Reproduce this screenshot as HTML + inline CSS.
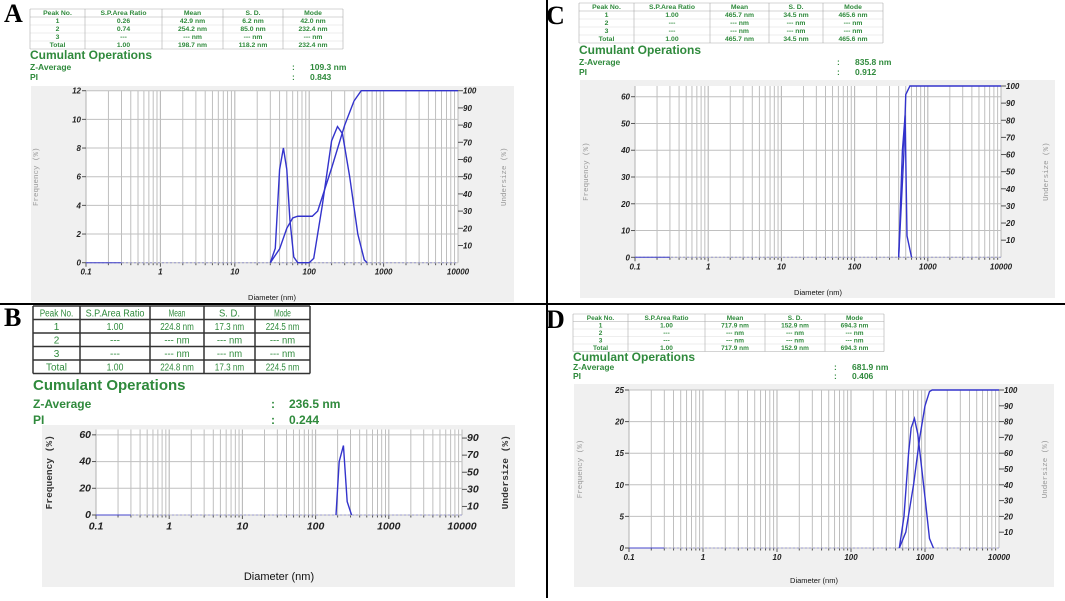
<!DOCTYPE html>
<html><head><meta charset="utf-8"><style>
body{margin:0;background:#fff;}
svg{display:block;font-family:"Liberation Sans",sans-serif;}
</style></head><body>
<svg id="fig" width="1065" height="601" viewBox="0 0 1065 601"></svg>
<script>
// ---- Data (diameter nm / value) ----
const aFreqX=[30,35,40,45,50,55,62,70, 100,115,150,200,240,280,350,450,550,600];
const aFreqY=[0,1,6.5,8,6.5,3,0.4,0, 0,0.3,4,8.5,9.5,9,6,2,0.2,0];
const aCumX=[30,40,50,60,70,110,130,200,300,400,500,10000];
const aCumY=[0,8,20,26,27,27,30,55,80,94,100,100];
const cFreqX=[400,450,490,520,600];
const cFreqY=[0,40,53,8,0];
const cCumX=[400,470,500,570,10000];
const cCumY=[0,60,95,100,100];
const bFreqX=[190,210,240,270,310];
const bFreqY=[0,40,52,10,0];
const dFreqX=[450,520,600,650,720,800,1000,1150,1300];
const dFreqY=[0,5,15,19,20.5,18,8,1.5,0];
const dCumX=[450,550,700,850,1000,1150,1250,10000];
const dCumY=[0,10,40,70,90,99,100,100];
const xTickLabels=["0.1","1","10","100","1000","10000"];
const aYTicks=[0,2,4,6,8,10,12];
const cYTicks=[0,10,20,30,40,50,60];
const bYTicks=[0,20,40,60];
const dYTicks=[0,5,10,15,20,25];
const rTicks=[10,20,30,40,50,60,70,80,90,100];
const bRTicks=[10,30,50,70,90];

const NS="http://www.w3.org/2000/svg";
const svg=document.getElementById('fig');
function el(tag,attrs,parent,txt){const e=document.createElementNS(NS,tag);for(const k in attrs)e.setAttribute(k,attrs[k]);if(txt!==undefined)e.textContent=txt;(parent||svg).appendChild(e);return e;}
const GREEN="#2f8a3c";

function table(g,cols,y0,rowH,rows,fs,heavy){
  const t=el('g',{},g);
  
  
  const sw=heavy?1.5:0.6, sc=heavy?"#333":"#aaa";
  for(let r=0;r<=rows.length;r++){if(heavy||r==0||r==1||r==rows.length) el('line',{x1:cols[0],x2:cols[cols.length-1],y1:y0+r*rowH,y2:y0+r*rowH,stroke:sc,'stroke-width':sw},t); else el('line',{x1:cols[0],x2:cols[cols.length-1],y1:y0+r*rowH,y2:y0+r*rowH,stroke:"#ddd",'stroke-width':0.5},t);}
  cols.forEach(c=>el('line',{x1:c,x2:c,y1:y0,y2:y0+rows.length*rowH,stroke:sc,'stroke-width':sw},t));
  rows.forEach((row,r)=>row.forEach((txt,i)=>{
    const a={x:(cols[i]+cols[i+1])/2,y:y0+r*rowH+rowH*0.78,'font-size':fs,'font-weight':heavy?'normal':'bold',fill:GREEN,'text-anchor':'middle'};
    if(heavy&&txt.length>3){a.textLength=Math.min((cols[i+1]-cols[i])-6,txt.length*fs*0.42);a.lengthAdjust='spacingAndGlyphs';}
    el('text',a,t,txt);
  }));
}

function panel(cfg){
  const g=el('g',{});
  
  
  el('text',{x:cfg.lx,y:cfg.ly,'font-size':26,'font-weight':'bold','font-family':'"Liberation Serif",serif',fill:'#000'},g,cfg.id.toUpperCase());
  table(g,cfg.cols,cfg.ty,cfg.rowH,cfg.rows,cfg.tfs,cfg.heavy);
  el('text',{x:cfg.cols[0],y:cfg.cy,'font-size':cfg.cfs,'font-weight':'bold',fill:GREEN},g,'Cumulant Operations');
  el('text',{x:cfg.cols[0],y:cfg.zy,'font-size':cfg.zfs,'font-weight':'bold',fill:GREEN},g,'Z-Average');
  el('text',{x:cfg.cols[0],y:cfg.py,'font-size':cfg.zfs,'font-weight':'bold',fill:GREEN},g,'PI');
  el('text',{x:cfg.vx-18,y:cfg.zy,'font-size':cfg.zfs,'font-weight':'bold',fill:GREEN},g,':');
  el('text',{x:cfg.vx,y:cfg.zy,'font-size':cfg.zfs,'font-weight':'bold',fill:GREEN},g,cfg.z);
  el('text',{x:cfg.vx-18,y:cfg.py,'font-size':cfg.zfs,'font-weight':'bold',fill:GREEN},g,':');
  el('text',{x:cfg.vx,y:cfg.py,'font-size':cfg.zfs,'font-weight':'bold',fill:GREEN},g,cfg.pi);
  const bg=el('rect',{x:cfg.bx,y:cfg.by,width:cfg.bw,height:cfg.bh,fill:'#f0f0f0'},g);
  
  
  const X0=cfg.x0,X1=cfg.x1,Yb=cfg.yb,Yt=cfg.yt;
  el('rect',{x:X0,y:Yt,width:X1-X0,height:Yb-Yt,fill:'#fff'},g);
  const xs=d=>X0+(Math.log10(d)+1)/5*(X1-X0);
  const ys=v=>Yb-v/cfg.ymax*(Yb-Yt);
  const yr=v=>Yb-v/100*(Yb-Yt);
  const grid=el('g',{},g);
  
  
  for(let e=-1;e<4;e++)for(let m=1;m<10;m++){const x=xs(m*Math.pow(10,e));el('line',{x1:x,x2:x,y1:Yt,y2:Yb,stroke:'#b8b8b8','stroke-width':m==1?1.1:0.9},grid);
    el('line',{x1:x,x2:x,y1:Yb,y2:Yb+(m==1?4:2.5),stroke:'#555','stroke-width':1},grid);}
  el('line',{x1:X1,x2:X1,y1:Yt,y2:Yb,stroke:'#b8b8b8'},grid);
  cfg.yTicks.forEach(v=>{const y=ys(v);el('line',{x1:X0,x2:X1,y1:y,y2:y,stroke:'#c0c0c0'},grid);
    el('line',{x1:X0-4,x2:X0,y1:y,y2:y,stroke:'#555'},grid);
    const t=el('text',{x:X0-5,y:y+3,'font-size':cfg.afs,'font-style':'italic','font-weight':'bold','text-anchor':'end',fill:'#222'},g,String(v));
    });
  cfg.rTicks.forEach(v=>{const y=yr(v);el('line',{x1:X1,x2:X1+5,y1:y,y2:y,stroke:'#555'},grid);
    const t=el('text',{x:X1+5,y:y+3,'font-size':cfg.afs,'font-style':'italic','font-weight':'bold',fill:'#222'},g,String(v));
    });
  xTickLabels.forEach(s=>{const t=el('text',{x:xs(+s),y:Yb+cfg.afs+4,'font-size':cfg.afs,'font-style':'italic','font-weight':'bold','text-anchor':'middle',fill:'#222'},g,s);
    });
  el('line',{x1:X0,x2:X1,y1:Yb,y2:Yb,stroke:'#9999cc','stroke-dasharray':'2,2'},g);
  el('line',{x1:X0,x2:xs(0.3),y1:Yb,y2:Yb,stroke:'#4444cc'},g);
  const xl=el('text',{x:(X0+X1)/2,y:cfg.dy,'font-size':cfg.dfs,'text-anchor':'middle',fill:'#111'},g,'Diameter (nm)');
  
  const mid=(Yt+Yb)/2;
  const fl=el('text',{x:cfg.fx,y:mid,'font-size':cfg.ffs,'font-family':'"Liberation Mono",monospace','font-weight':cfg.heavy?'bold':'normal',fill:cfg.heavy?'#333':'#999','text-anchor':'middle',transform:`rotate(-90 ${cfg.fx} ${mid})`},g,'Frequency (%)');
  
  const ul=el('text',{x:cfg.ux,y:mid,'font-size':cfg.ffs,'font-family':'"Liberation Mono",monospace','font-weight':cfg.heavy?'bold':'normal',fill:cfg.heavy?'#333':'#999','text-anchor':'middle',transform:`rotate(-90 ${cfg.ux} ${mid})`},g,'Undersize (%)');
  
  const fp=el('polyline',{points:cfg.fx_.map((d,i)=>xs(d)+','+ys(cfg.fy_[i])).join(' '),fill:'none',stroke:'#3333cc','stroke-width':1.4},g);
  
  if(cfg.cx_){const cp=el('polyline',{points:cfg.cx_.map((d,i)=>xs(d)+','+yr(cfg.cy_[i])).join(' '),fill:'none',stroke:'#3333cc','stroke-width':1.4},g);
    }
}
const hdr=["Peak No.","S.P.Area Ratio","Mean","S. D.","Mode"];
panel({id:'a',lx:4,ly:22,cols:[30,85,162,223,283,343],ty:9,rowH:8,tfs:6.8,heavy:false,
  rows:[hdr,["1","0.26","42.9 nm","6.2 nm","42.0 nm"],["2","0.74","254.2 nm","85.0 nm","232.4 nm"],["3","---","--- nm","--- nm","--- nm"],["Total","1.00","198.7 nm","118.2 nm","232.4 nm"]],
  cy:59,cfs:12,zy:70,py:80,zfs:8.5,vx:310,z:'109.3 nm',pi:'0.843',
  bx:31,by:86,bw:483,bh:216,x0:86,x1:458,yt:90.7,yb:262.7,ymax:12,yTicks:aYTicks,rTicks:rTicks,afs:8,
  dy:300,dfs:7.5,fx:38,ux:506,ffs:7.5,fx_:aFreqX,fy_:aFreqY,cx_:aCumX,cy_:aCumY});
panel({id:'c',lx:546,ly:24,cols:[579,634,710,769,823,883],ty:3,rowH:8,tfs:6.8,heavy:false,
  rows:[hdr,["1","1.00","465.7 nm","34.5 nm","465.6 nm"],["2","---","--- nm","--- nm","--- nm"],["3","---","--- nm","--- nm","--- nm"],["Total","1.00","465.7 nm","34.5 nm","465.6 nm"]],
  cy:54,cfs:12,zy:65,py:75,zfs:8.5,vx:855,z:'835.8 nm',pi:'0.912',
  bx:580,by:80,bw:475,bh:218,x0:635,x1:1001,yt:86,yb:257.3,ymax:64,yTicks:cYTicks,rTicks:rTicks,afs:8,
  dy:295,dfs:7.5,fx:588,ux:1048,ffs:7.5,fx_:cFreqX,fy_:cFreqY,cx_:cCumX,cy_:cCumY});
panel({id:'b',lx:4,ly:326,cols:[33,80,150,204,255,310],ty:306,rowH:13.5,tfs:10,heavy:true,
  rows:[hdr,["1","1.00","224.8 nm","17.3 nm","224.5 nm"],["2","---","--- nm","--- nm","--- nm"],["3","---","--- nm","--- nm","--- nm"],["Total","1.00","224.8 nm","17.3 nm","224.5 nm"]],
  cy:390,cfs:15,zy:408,py:424,zfs:12,vx:289,z:'236.5 nm',pi:'0.244',
  bx:42,by:425,bw:473,bh:162,x0:96,x1:462,yt:429.5,yb:515,ymax:64,yTicks:bYTicks,rTicks:bRTicks,afs:10.5,
  dy:580,dfs:11,fx:52,ux:508,ffs:9.5,fx_:bFreqX,fy_:bFreqY});
panel({id:'d',lx:546,ly:328,cols:[573,628,705,765,825,884],ty:314,rowH:7.5,tfs:6.5,heavy:false,
  rows:[hdr,["1","1.00","717.9 nm","152.9 nm","694.3 nm"],["2","---","--- nm","--- nm","--- nm"],["3","---","--- nm","--- nm","--- nm"],["Total","1.00","717.9 nm","152.9 nm","694.3 nm"]],
  cy:361,cfs:12,zy:370,py:379,zfs:8.5,vx:852,z:'681.9 nm',pi:'0.406',
  bx:574,by:384,bw:480,bh:203,x0:629,x1:999,yt:390,yb:548,ymax:25,yTicks:dYTicks,rTicks:rTicks,afs:8,
  dy:583,dfs:7.5,fx:582,ux:1047,ffs:7.5,fx_:dFreqX,fy_:dFreqY,cx_:dCumX,cy_:dCumY});
const h=el('line',{x1:0,x2:1065,y1:304,y2:304,stroke:'#000','stroke-width':2});

const v=el('line',{x1:547,x2:547,y1:0,y2:598,stroke:'#000','stroke-width':2});

</script>
</body></html>
